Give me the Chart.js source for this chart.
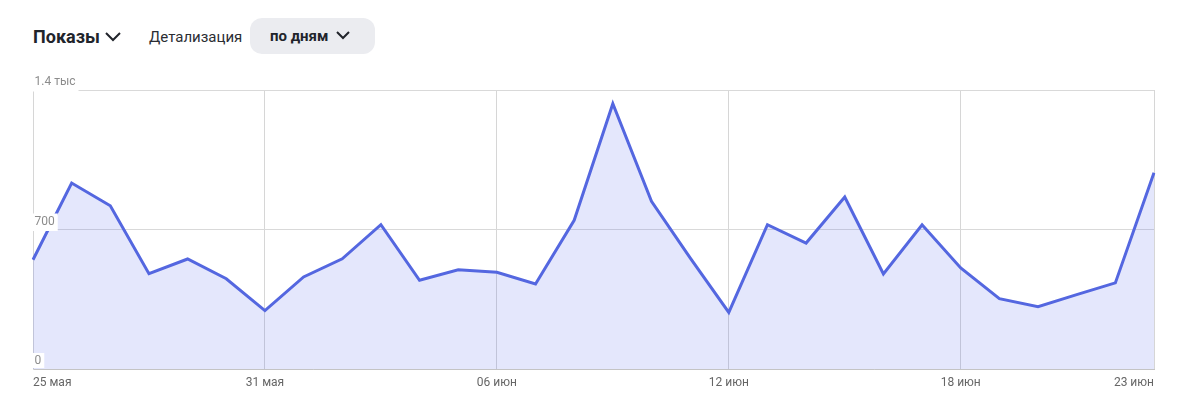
<!DOCTYPE html>
<html>
<head>
<meta charset="utf-8">
<script src="https://cdn.jsdelivr.net/npm/chart.js@4.4.1/dist/chart.umd.min.js"></script>
<style>
  html, body { margin: 0; padding: 0; background: #fff; width: 1189px; height: 419px; overflow: hidden; font-family: Roboto, "Noto Sans", sans-serif; }
  #hdr { position: absolute; left: 0; top: 0; width: 1189px; height: 70px; }
  .title { position: absolute; left: 33px; top: 25px; font-size: 18px; font-weight: 700; color: #21242b; line-height: 24px; }
  .chev1 { position: absolute; left: 104px; top: 30px; }
  .det { position: absolute; left: 149px; top: 27px; font-size: 15px; color: #2b2d33; line-height: 20px; }
  .pill { position: absolute; left: 250px; top: 18px; width: 125px; height: 36px; border-radius: 12px; background: #ebecf0; }
  .pill span { position: absolute; left: 20px; top: 8px; font-size: 15px; font-weight: 700; color: #21242b; line-height: 20px; }
  .pill svg { position: absolute; left: 85px; top: 12px; }
  #wrap { position: absolute; left: 0; top: 60px; width: 1189px; height: 359px; }
</style>
</head>
<body>
<div id="hdr">
  <div class="title">Показы</div>
  <svg class="chev1" width="18" height="14" viewBox="0 0 18 14"><polyline points="2,3 9,10 16,3" fill="none" stroke="#21242b" stroke-width="2"/></svg>
  <div class="det">Детализация</div>
  <div class="pill"><span>по дням</span><svg width="16" height="12" viewBox="0 0 16 12"><polyline points="2,2 8,8 14,2" fill="none" stroke="#21242b" stroke-width="2"/></svg></div>
</div>
<div id="wrap"><canvas id="c" width="1189" height="359"></canvas></div>
<script>
const categories = ['25 мая','26 мая','27 мая','28 мая','29 мая','30 мая','31 мая',
  '01 июн','02 июн','03 июн','04 июн','05 июн','06 июн','07 июн','08 июн','09 июн','10 июн',
  '11 июн','12 июн','13 июн','14 июн','15 июн','16 июн','17 июн','18 июн','19 июн','20 июн',
  '21 июн','22 июн','23 июн'];
const shows = [548, 933, 819, 478, 552, 453, 293, 462, 553, 724, 445, 498, 485, 427, 746,
  1331, 841, 558, 284, 724, 632, 863, 477, 724, 507, 353, 313, 373, 432, 985];
const xTickIndices = [0, 6, 12, 18, 24, 29];
const yTickValues = [0, 700, 1400];
const yTickLabels = ['0', '700', '1.4 тыс'];

const labelPlugin = {
  id: 'labels',
  afterDraw(chart) {
    const ctx = chart.ctx;
    const xs = chart.scales.x, ys = chart.scales.y, ca = chart.chartArea;
    ctx.save();
    ctx.font = '12px Roboto, "Noto Sans", sans-serif';
    ctx.fillStyle = '#8c8c8c';
    ctx.textBaseline = 'middle';
    yTickValues.forEach((v, i) => {
      const y = ys.getPixelForValue(v);
      const t = yTickLabels[i];
      const w = ctx.measureText(t).width;
      ctx.fillStyle = '#ffffff';
      ctx.fillRect(ca.left - 0.5, y - 16, w + 5, v === 0 ? 15 : 17.5);
      ctx.fillStyle = '#8c8c8c';
      ctx.textAlign = 'left';
      ctx.fillText(t, ca.left + 1.5, y - 8);
    });
    xTickIndices.forEach((idx, k) => {
      const x = xs.getPixelForValue(idx);
      ctx.textAlign = k === 0 ? 'left' : (k === xTickIndices.length - 1 ? 'right' : 'center');
      ctx.fillStyle = '#666';
      ctx.fillText(categories[idx], x, ca.bottom + 14);
    });
    ctx.restore();
  }
};

new Chart(document.getElementById('c'), {
  type: 'line',
  data: {
    labels: categories,
    datasets: [{
      data: shows,
      borderColor: '#5467e0',
      borderWidth: 3,
      backgroundColor: 'rgba(90,106,235,0.16)',
      fill: 'origin',
      pointRadius: 0,
      pointHoverRadius: 0,
      tension: 0,
      borderJoinStyle: 'miter'
    }]
  },
  options: {
    responsive: false,
    animation: false,
    devicePixelRatio: 1,
    layout: { padding: { left: 33, right: 35, top: 30, bottom: 50 } },
    plugins: { legend: { display: false }, tooltip: { enabled: false } },
    scales: {
      x: {
        offset: false,
        ticks: { display: false, autoSkip: false },
        grid: {
          drawTicks: false,
          color: (c) => xTickIndices.includes(c.index) ? '#d6d6d6' : 'rgba(0,0,0,0)',
          lineWidth: 1
        },
        border: { display: true, color: '#c4c4c4', width: 1 }
      },
      y: {
        min: 0, max: 1400,
        ticks: { display: false, stepSize: 700 },
        grid: { drawTicks: false, color: '#d9d9d9' },
        border: { display: true, color: '#d6d6d6' }
      }
    }
  },
  plugins: [labelPlugin]
});
</script>
</body>
</html>
